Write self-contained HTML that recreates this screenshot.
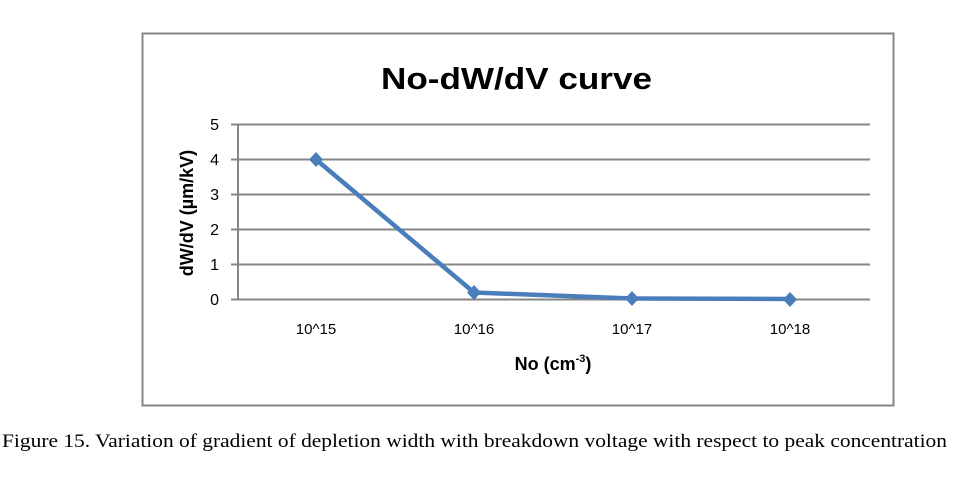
<!DOCTYPE html>
<html><head><style>
body{margin:0;background:#fff;width:959px;height:480px;overflow:hidden}
</style></head><body>
<svg width="959" height="480" xmlns="http://www.w3.org/2000/svg">
<rect x="142.5" y="33.5" width="751" height="372" fill="#fff" stroke="#868686" stroke-width="2"/>
<text x="381" y="89" font-family="Liberation Sans, sans-serif" font-weight="bold" font-size="31" textLength="271" lengthAdjust="spacingAndGlyphs">No-dW/dV curve</text>
<g stroke="#868686" stroke-width="2">
<line x1="231" y1="124.5" x2="870" y2="124.5"/>
<line x1="231" y1="159.5" x2="870" y2="159.5"/>
<line x1="231" y1="194.5" x2="870" y2="194.5"/>
<line x1="231" y1="229.5" x2="870" y2="229.5"/>
<line x1="231" y1="264.5" x2="870" y2="264.5"/>
<line x1="231" y1="299.5" x2="870" y2="299.5"/>
<line x1="238" y1="124" x2="238" y2="300"/>
</g>
<g font-family="Liberation Sans, sans-serif" font-size="16" text-anchor="end">
<text x="219" y="130">5</text><text x="219" y="165">4</text><text x="219" y="200">3</text>
<text x="219" y="235">2</text><text x="219" y="270">1</text><text x="219" y="305">0</text>
</g>
<g font-family="Liberation Sans, sans-serif" font-size="15" text-anchor="middle">
<text x="316" y="334">10^15</text><text x="474" y="334">10^16</text><text x="632" y="334">10^17</text><text x="790" y="334">10^18</text>
</g>
<text x="553" y="370" font-family="Liberation Sans, sans-serif" font-weight="bold" font-size="18" text-anchor="middle">No (cm<tspan font-size="11" dy="-8">-3</tspan><tspan dy="8">)</tspan></text>
<text transform="translate(193,213) rotate(-90)" font-family="Liberation Sans, sans-serif" font-weight="bold" font-size="18" text-anchor="middle">dW/dV (µm/kV)</text>
<polyline points="316,159.5 474,292.5 632,298.5 790,299" fill="none" stroke="#4a7ebb" stroke-width="4.5" stroke-linejoin="round"/>
<g fill="#4a7ebb">
<polygon points="316,152 323,159.5 316,167 309,159.5"/>
<polygon points="474,285 481,292.5 474,300 467,292.5"/>
<polygon points="632,291 639,298.5 632,306 625,298.5"/>
<polygon points="790,292 797,299.5 790,307 783,299.5"/>
</g>
<text x="2" y="447" font-family="Liberation Serif, serif" font-size="19" textLength="945" lengthAdjust="spacingAndGlyphs">Figure 15. Variation of gradient of depletion width with breakdown voltage with respect to peak concentration</text>
</svg>
</body></html>
